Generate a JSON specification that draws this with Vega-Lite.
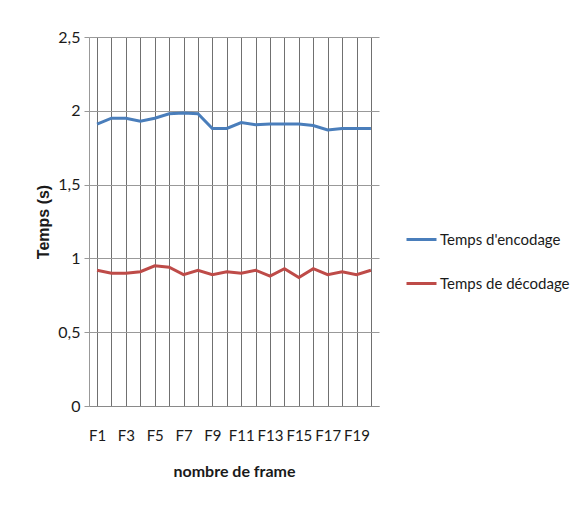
{
  "$schema": "https://vega.github.io/schema/vega-lite/v6.json",
  "width": 290,
  "height": 369,
  "autosize": {"type": "none"},
  "padding": {"left": 89, "top": 37, "right": 206, "bottom": 103},
  "background": "white",
  "config": {
    "view": {"stroke": null},
    "font": "Lato, sans-serif"
  },
  "data": {
    "values": [
      {"frame": "F1", "serie": "Temps d'encodage", "temps": 1.91},
      {"frame": "F2", "serie": "Temps d'encodage", "temps": 1.95},
      {"frame": "F3", "serie": "Temps d'encodage", "temps": 1.95},
      {"frame": "F4", "serie": "Temps d'encodage", "temps": 1.93},
      {"frame": "F5", "serie": "Temps d'encodage", "temps": 1.95},
      {"frame": "F6", "serie": "Temps d'encodage", "temps": 1.98},
      {"frame": "F7", "serie": "Temps d'encodage", "temps": 1.985},
      {"frame": "F8", "serie": "Temps d'encodage", "temps": 1.98},
      {"frame": "F9", "serie": "Temps d'encodage", "temps": 1.88},
      {"frame": "F10", "serie": "Temps d'encodage", "temps": 1.88},
      {"frame": "F11", "serie": "Temps d'encodage", "temps": 1.92},
      {"frame": "F12", "serie": "Temps d'encodage", "temps": 1.905},
      {"frame": "F13", "serie": "Temps d'encodage", "temps": 1.91},
      {"frame": "F14", "serie": "Temps d'encodage", "temps": 1.91},
      {"frame": "F15", "serie": "Temps d'encodage", "temps": 1.91},
      {"frame": "F16", "serie": "Temps d'encodage", "temps": 1.90},
      {"frame": "F17", "serie": "Temps d'encodage", "temps": 1.87},
      {"frame": "F18", "serie": "Temps d'encodage", "temps": 1.88},
      {"frame": "F19", "serie": "Temps d'encodage", "temps": 1.88},
      {"frame": "F20", "serie": "Temps d'encodage", "temps": 1.88},
      {"frame": "F1", "serie": "Temps de décodage", "temps": 0.92},
      {"frame": "F2", "serie": "Temps de décodage", "temps": 0.90},
      {"frame": "F3", "serie": "Temps de décodage", "temps": 0.90},
      {"frame": "F4", "serie": "Temps de décodage", "temps": 0.91},
      {"frame": "F5", "serie": "Temps de décodage", "temps": 0.95},
      {"frame": "F6", "serie": "Temps de décodage", "temps": 0.94},
      {"frame": "F7", "serie": "Temps de décodage", "temps": 0.89},
      {"frame": "F8", "serie": "Temps de décodage", "temps": 0.92},
      {"frame": "F9", "serie": "Temps de décodage", "temps": 0.89},
      {"frame": "F10", "serie": "Temps de décodage", "temps": 0.91},
      {"frame": "F11", "serie": "Temps de décodage", "temps": 0.90},
      {"frame": "F12", "serie": "Temps de décodage", "temps": 0.92},
      {"frame": "F13", "serie": "Temps de décodage", "temps": 0.88},
      {"frame": "F14", "serie": "Temps de décodage", "temps": 0.93},
      {"frame": "F15", "serie": "Temps de décodage", "temps": 0.87},
      {"frame": "F16", "serie": "Temps de décodage", "temps": 0.93},
      {"frame": "F17", "serie": "Temps de décodage", "temps": 0.89},
      {"frame": "F18", "serie": "Temps de décodage", "temps": 0.91},
      {"frame": "F19", "serie": "Temps de décodage", "temps": 0.89},
      {"frame": "F20", "serie": "Temps de décodage", "temps": 0.92}
    ]
  },
  "mark": {"type": "line", "strokeWidth": 3},
  "encoding": {
    "x": {
      "field": "frame",
      "type": "ordinal",
      "sort": null,
      "scale": {"type": "point", "padding": 0.56},
      "axis": {
        "title": "nombre de frame",
        "titleFont": "Lato, sans-serif",
        "titleFontSize": 16,
        "titleFontWeight": "bold",
        "titleColor": "#1a1a1a",
        "titlePadding": 20,
        "labelAngle": 0,
        "labelFont": "Lato, sans-serif",
        "labelFontSize": 15,
        "labelColor": "#1a1a1a",
        "labelPadding": 22,
        "labelExpr": "toNumber(slice(datum.value, 1)) % 2 == 1 ? datum.value : ''",
        "ticks": false,
        "domainColor": "#8a8a8a",
        "grid": true,
        "gridColor": "#707070",
        "gridWidth": 1,
        "gridOpacity": 1
      }
    },
    "y": {
      "field": "temps",
      "type": "quantitative",
      "scale": {"domain": [0, 2.5], "nice": false},
      "axis": {
        "title": "Temps (s)",
        "titleFont": "Liberation Sans, Arial, sans-serif",
        "titleFontSize": 16,
        "titleFontWeight": "bold",
        "titleColor": "#1a1a1a",
        "titlePadding": 6,
        "values": [0, 0.5, 1, 1.5, 2, 2.5],
        "labelExpr": "replace(format(datum.value, '~g'), '.', ',')",
        "labelFont": "Lato, sans-serif",
        "labelFontSize": 16,
        "labelColor": "#1a1a1a",
        "labelPadding": 4,
        "tickSize": 5,
        "tickColor": "#999999",
        "domainColor": "#999999",
        "grid": true,
        "gridColor": "#999999",
        "gridWidth": 1
      }
    },
    "color": {
      "field": "serie",
      "type": "nominal",
      "scale": {
        "domain": ["Temps d'encodage", "Temps de décodage"],
        "range": ["#4A7EBB", "#BE4B48"]
      },
      "legend": {
        "title": null,
        "orient": "none",
        "legendX": 316,
        "legendY": 186,
        "symbolType": "stroke",
        "symbolSize": 900,
        "symbolStrokeWidth": 3,
        "labelFont": "Lato, sans-serif",
        "labelFontSize": 15,
        "labelColor": "#1a1a1a",
        "labelOffset": 2,
        "rowPadding": 19
      }
    }
  }
}
